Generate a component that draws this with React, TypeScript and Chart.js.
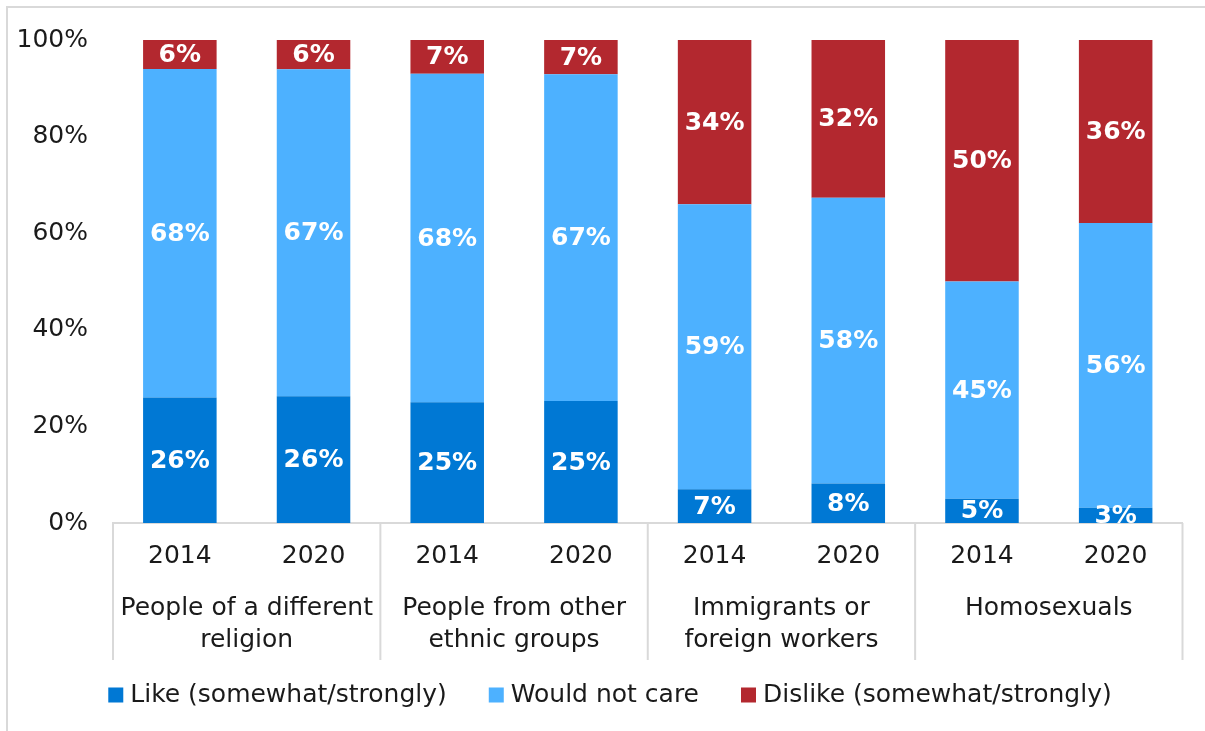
import React, { useEffect, useRef } from "react";
import { Chart, registerables } from "chart.js";

Chart.register(...registerables);

const years = ["2014", "2020", "2014", "2020", "2014", "2020", "2014", "2020"];
const groupLabels = [
  ["People of a different", "religion"],
  ["People from other", "ethnic groups"],
  ["Immigrants or", "foreign workers"],
  ["Homosexuals"],
];
const likeValues = [26, 26, 25, 25, 7, 8, 5, 3];
const notCareValues = [68, 67, 68, 67, 59, 58, 45, 56];
const dislikeValues = [6, 6, 7, 7, 34, 32, 50, 36];
const seriesNames = ["Like (somewhat/strongly)", "Would not care", "Dislike (somewhat/strongly)"];
const seriesColors = ["#0078d4", "#4db1ff", "#b3282f"];
const yTickValues = [0, 20, 40, 60, 80, 100];

const FONT = "'DejaVu Sans', sans-serif";
const TEXT = "#1a1a1a";
const LINE = "#d9d9d9";

const rawSeries = [likeValues, notCareValues, dislikeValues];
const totals = years.map((_, i) => rawSeries.reduce((s, arr) => s + arr[i], 0));
const pctSeries = rawSeries.map((arr) => arr.map((v, i) => (v / totals[i]) * 100));

const overlayPlugin = {
  id: "overlay",
  afterDatasetsDraw(chart: any) {
    const ctx = chart.ctx;
    const area = chart.chartArea;
    ctx.save();
    ctx.beginPath();
    ctx.rect(area.left, area.top, area.right - area.left, area.bottom - area.top);
    ctx.clip();
    ctx.fillStyle = "#ffffff";
    ctx.font = `bold 25px ${FONT}`;
    ctx.textAlign = "center";
    ctx.textBaseline = "middle";
    chart.data.datasets.forEach((ds: any, di: number) => {
      const meta = chart.getDatasetMeta(di);
      meta.data.forEach((el: any, i: number) => {
        const raw = rawSeries[di][i];
        const cy = (el.y + el.base) / 2;
        ctx.fillText(`${raw}%`, el.x, cy + 1);
      });
    });
    ctx.restore();
  },
  afterDraw(chart: any) {
    const ctx = chart.ctx;
    const area = chart.chartArea;
    const xs = chart.scales.x;
    ctx.save();
    // group separators
    ctx.strokeStyle = LINE;
    ctx.lineWidth = 2;
    const bounds: number[] = [area.left];
    for (let g = 0; g < groupLabels.length - 1; g++) {
      const a = xs.getPixelForValue(2 * g + 1);
      const b = xs.getPixelForValue(2 * g + 2);
      bounds.push((a + b) / 2);
    }
    bounds.push(area.right);
    ctx.beginPath();
    bounds.forEach((bx) => {
      ctx.moveTo(bx, area.bottom);
      ctx.lineTo(bx, area.bottom + 137);
    });
    ctx.stroke();
    // group labels
    ctx.fillStyle = TEXT;
    ctx.font = `25px ${FONT}`;
    ctx.textAlign = "center";
    ctx.textBaseline = "middle";
    groupLabels.forEach((lines, g) => {
      const cx = (xs.getPixelForValue(2 * g) + xs.getPixelForValue(2 * g + 1)) / 2;
      lines.forEach((line, li) => {
        ctx.fillText(line, cx, area.bottom + 85 + li * 32);
      });
    });
    // legend
    const boxSize = 15;
    const boxGap = 7;
    const itemGap = 42;
    const legendY = 695;
    ctx.textAlign = "left";
    const items = chart.data.datasets.map((ds: any) => ({
      text: ds.label as string,
      color: ds.backgroundColor as string,
      w: ctx.measureText(ds.label).width,
    }));
    const total =
      items.reduce((s: number, it: any) => s + boxSize + boxGap + it.w, 0) + itemGap * (items.length - 1);
    let x = 610 - total / 2;
    items.forEach((it: any) => {
      ctx.fillStyle = it.color;
      ctx.fillRect(x, legendY - boxSize / 2, boxSize, boxSize);
      x += boxSize + boxGap;
      ctx.fillStyle = TEXT;
      ctx.fillText(it.text, x, legendY);
      x += it.w + itemGap;
    });
    ctx.restore();
  },
};

export default function App() {
  const canvasRef = useRef<HTMLCanvasElement | null>(null);

  useEffect(() => {
    if (!canvasRef.current) return;
    const chart = new Chart(canvasRef.current, {
      type: "bar",
      data: {
        labels: years,
        datasets: seriesNames.map((name, i) => ({
          label: name,
          data: pctSeries[i],
          backgroundColor: seriesColors[i],
          borderWidth: 0,
          categoryPercentage: 1,
          barPercentage: 0.55,
        })),
      },
      options: {
        responsive: false,
        animation: false,
        devicePixelRatio: 1,
        layout: { padding: { left: 8, right: 22.5, top: 36, bottom: 0 } },
        plugins: {
          tooltip: { enabled: false },
          legend: { display: false },
        },
        scales: {
          x: {
            stacked: true,
            grid: { display: false, drawTicks: false },
            border: { display: true, color: LINE, width: 2 },
            ticks: { color: TEXT, font: { family: FONT, size: 25 }, padding: 18, maxRotation: 0 },
            afterFit: (scale: any) => {
              scale.height = 208;
            },
          },
          y: {
            stacked: true,
            min: 0,
            max: 100,
            grid: { display: false, drawTicks: false },
            border: { display: false },
            afterBuildTicks: (scale: any) => {
              scale.ticks = yTickValues.map((v) => ({ value: v }));
            },
            ticks: {
              color: TEXT,
              font: { family: FONT, size: 25 },
              padding: 25,
              callback: (v: any) => `${v}%`,
            },
            afterFit: (scale: any) => {
              scale.width = 105;
            },
          },
        },
      },
      plugins: [overlayPlugin],
    });
    return () => chart.destroy();
  }, []);

  return (
    <div
      style={{
        position: "absolute",
        left: 0,
        top: 0,
        width: 1205,
        height: 731,
        background: "#fff",
        overflow: "hidden",
      }}
    >
      <div
        style={{
          position: "absolute",
          left: 6,
          top: 6,
          width: 1400,
          height: 900,
          borderTop: `2px solid ${LINE}`,
          borderLeft: `2px solid ${LINE}`,
        }}
      />
      <canvas
        ref={canvasRef}
        width={1205}
        height={731}
        style={{ display: "block", position: "absolute", left: 0, top: 0 }}
      />
    </div>
  );
}
